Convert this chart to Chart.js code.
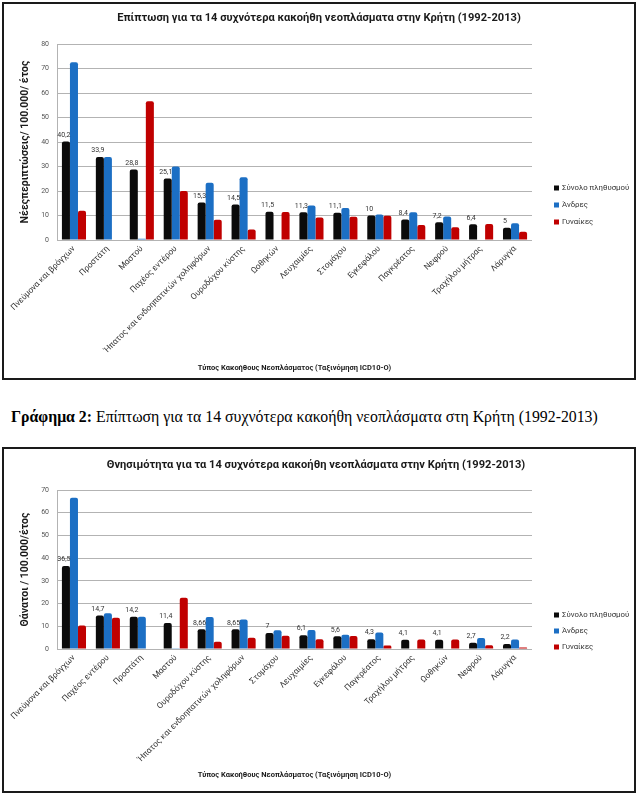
<!DOCTYPE html>
<html>
<head>
<meta charset="utf-8">
<script src="https://cdn.jsdelivr.net/npm/chart.js@4.4.1/dist/chart.umd.min.js"></script>
<style>
  html, body { margin: 0; padding: 0; background: #fff; }
  body { width: 639px; height: 795px; position: relative; overflow: hidden; }
  .box { position: absolute; left: 2px; width: 634px; border: 2px solid #1a1a1a; box-sizing: border-box; background: #fff; }
  #box1 { top: 2px; height: 378px; }
  #box2 { top: 447px; height: 346px; }
  .box canvas { display: block; }
  #caption { position: absolute; left: 11px; top: 408px; font-family: "Liberation Serif", "Times New Roman", serif; font-size: 15.8px; color: #000; white-space: nowrap; }
</style>
</head>
<body>
<div class="box" id="box1"><canvas id="c1"></canvas></div>
<div id="caption"><b>Γράφημα 2:</b> Επίπτωση για τα 14 συχνότερα κακοήθη νεοπλάσματα στη Κρήτη (1992-2013)</div>
<div class="box" id="box2"><canvas id="c2"></canvas></div>
<script>
// ---------- Data ----------
const seriesNames = ['Σύνολο πληθυσμού', 'Άνδρες', 'Γυναίκες'];

const incidenceCategories = ['Πνεύμονα και βρόγχων', 'Προστάτη', 'Μαστού', 'Παχέος εντέρου',
  'Ήπατος και ενδοηπατικών χοληφόρων', 'Ουροδόχου κύστης', 'Ωοθηκών', 'Λευχαιμίες',
  'Στομάχου', 'Εγκεφάλου', 'Παγκρέατος', 'Νεφρού', 'Τραχήλου μήτρας', 'Λάρυγγα'];
const incidenceTotal = [40.2, 33.9, 28.8, 25.1, 15.3, 14.5, 11.5, 11.3, 11.1, 10, 8.4, 7.2, 6.4, 5];
const incidenceMen   = [72.6, 33.9, 0.5, 30, 23.4, 25.6, null, 14.1, 13.1, 10.4, 11.3, 9.6, null, 6.8];
const incidenceWomen = [11.9, null, 56.6, 20, 8.3, 4.3, 11.4, 9.2, 9.5, 9.9, 6.1, 5.2, 6.5, 3.4];

const mortalityCategories = ['Πνεύμονα και βρόγχων', 'Παχέος εντέρου', 'Προστάτη', 'Μαστού',
  'Ουροδόχου κύστης', 'Ήπατος και ενδοηπατικών χοληφόρων', 'Στομάχου', 'Λευχαιμίες',
  'Εγκεφάλου', 'Παγκρέατος', 'Τραχήλου μήτρας', 'Ωοθηκών', 'Νεφρού', 'Λάρυγγα'];
const mortalityTotal = [36.5, 14.7, 14.2, 11.4, 8.66, 8.65, 7, 6.1, 5.6, 4.3, 4.1, 4.1, 2.7, 2.2];
const mortalityMen   = [66.6, 15.7, 14.2, 0.3, 14.1, 13, 8.2, 8.4, 6.3, 7.3, null, null, 4.8, 4.2];
const mortalityWomen = [10.4, 13.8, null, 22.6, 3.2, 5, 5.8, 4.3, 5.7, 1.5, 4.2, 4.2, 1.6, 0.7];

const title1 = 'Επίπτωση για τα 14 συχνότερα κακοήθη νεοπλάσματα στην Κρήτη (1992-2013)';
const title2 = 'Θνησιμότητα για τα 14 συχνότερα κακοήθη νεοπλάσματα στην Κρήτη (1992-2013)';
const yTitle1 = 'Νέεςπεριπτώσεις/ 100.000/ έτος';
const yTitle2 = 'Θάνατοι / 100.000/έτος';
const xTitle = 'Τύπος Κακοήθους Νεοπλάσματος (Ταξινόμηση ICD10-O)';
const yMax1 = 80, yMax2 = 70, yStep = 10;

// ---------- Styles ----------
const FONT = 'Roboto, "Noto Sans", "DejaVu Sans", sans-serif';
const colors = ['#0b0b0b', '#1c6fc4', '#c00000'];

const valueLabels = {
  id: 'valueLabels',
  afterDatasetsDraw(chart) {
    const ctx = chart.ctx;
    const meta = chart.getDatasetMeta(0);
    const ds = chart.data.datasets[0];
    ctx.save();
    ctx.font = '7px ' + FONT;
    ctx.fillStyle = '#333';
    ctx.textAlign = 'center';
    ctx.textBaseline = 'bottom';
    meta.data.forEach((bar, i) => {
      const v = ds.data[i];
      if (v == null) return;
      ctx.fillText(String(v).replace('.', ','), bar.x - 2, bar.y - 3);
    });
    ctx.restore();
  }
};

const customLegend = {
  id: 'customLegend',
  afterDraw(chart, args, opts) {
    const ctx = chart.ctx;
    ctx.save();
    ctx.font = '7.8px ' + FONT;
    ctx.textBaseline = 'middle';
    ctx.textAlign = 'left';
    chart.data.datasets.forEach((ds, i) => {
      const y = opts.y + i * opts.gap;
      ctx.fillStyle = ds.backgroundColor;
      ctx.fillRect(opts.x, y - 2.5, 5, 5);
      ctx.fillStyle = '#333';
      ctx.fillText(ds.label, opts.x + 8, y);
    });
    ctx.restore();
  }
};

const centerTitle = {
  id: 'centerTitle',
  afterDraw(chart, args, opts) {
    const ctx = chart.ctx;
    ctx.save();
    ctx.font = 'bold 11.1px ' + FONT;
    ctx.fillStyle = '#1a1a1a';
    ctx.textAlign = 'center';
    ctx.textBaseline = 'middle';
    ctx.fillText(opts.text, opts.x, opts.y);
    ctx.restore();
  }
};

function makeChart(id, cats, total, men, women, cfg) {
  const canvas = document.getElementById(id);
  return new Chart(canvas, {
    type: 'bar',
    data: {
      labels: cats,
      datasets: [
        { label: seriesNames[0], data: total, backgroundColor: colors[0] },
        { label: seriesNames[1], data: men, backgroundColor: colors[1] },
        { label: seriesNames[2], data: women, backgroundColor: colors[2] }
      ]
    },
    options: {
      responsive: false,
      animation: false,
      devicePixelRatio: 1,
      layout: { padding: { left: 0, right: cfg.padRight, top: cfg.padTop, bottom: cfg.padBottom } },
      datasets: { bar: { categoryPercentage: 0.71, barPercentage: 1.0, borderRadius: { topLeft: 2, topRight: 2 }, borderSkipped: 'bottom' } },
      plugins: {
        legend: { display: false },
        tooltip: { enabled: false },
        title: { display: false },
        centerTitle: { text: cfg.title, x: cfg.titleX, y: cfg.titleY },
        customLegend: { x: cfg.legendX, y: cfg.legendY, gap: cfg.legendGap }
      },
      scales: {
        x: {
          grid: { display: false, drawTicks: false },
          border: { display: false },
          ticks: { minRotation: 45, maxRotation: 45, padding: 4, color: '#333', font: { family: FONT, size: 8.3 }, autoSkip: false },
          title: { display: true, text: xTitle, color: '#1a1a1a', font: { family: FONT, size: 7.5, weight: 'bold' }, padding: { top: 0, bottom: 0 } },
          afterFit(scale) { scale.height = cfg.xHeight; }
        },
        y: {
          min: 0, max: cfg.yMax,
          grid: { color: '#b3b3b3', drawTicks: false },
          border: { display: true, color: '#b3b3b3' },
          ticks: { stepSize: yStep, padding: 8, color: '#555', font: { family: FONT, size: 7 } },
          title: { display: true, text: cfg.yTitle, color: '#1a1a1a', font: { family: FONT, size: 10.5, weight: 'bold' }, padding: { top: 15, bottom: 0 } },
          afterFit(scale) { scale.width = 53; }
        }
      }
    },
    plugins: [valueLabels, customLegend, centerTitle]
  });
}

function sizeCanvas(id, w, h) {
  const c = document.getElementById(id);
  c.width = w; c.height = h;
  c.style.width = w + 'px'; c.style.height = h + 'px';
}
sizeCanvas('c1', 630, 374);
sizeCanvas('c2', 630, 342);

makeChart('c1', incidenceCategories, incidenceTotal, incidenceMen, incidenceWomen, {
  title: title1, yTitle: yTitle1, yMax: yMax1, titleX: 315, titleY: 14,
  padRight: 102, padTop: 40, padBottom: 5, xHeight: 133,
  legendX: 550, legendY: 184, legendGap: 17
});
makeChart('c2', mortalityCategories, mortalityTotal, mortalityMen, mortalityWomen, {
  title: title2, yTitle: yTitle2, yMax: yMax2, titleX: 312, titleY: 16,
  padRight: 102, padTop: 41, padBottom: 11, xHeight: 131,
  legendX: 550, legendY: 166, legendGap: 16
});
</script>
</body>
</html>
